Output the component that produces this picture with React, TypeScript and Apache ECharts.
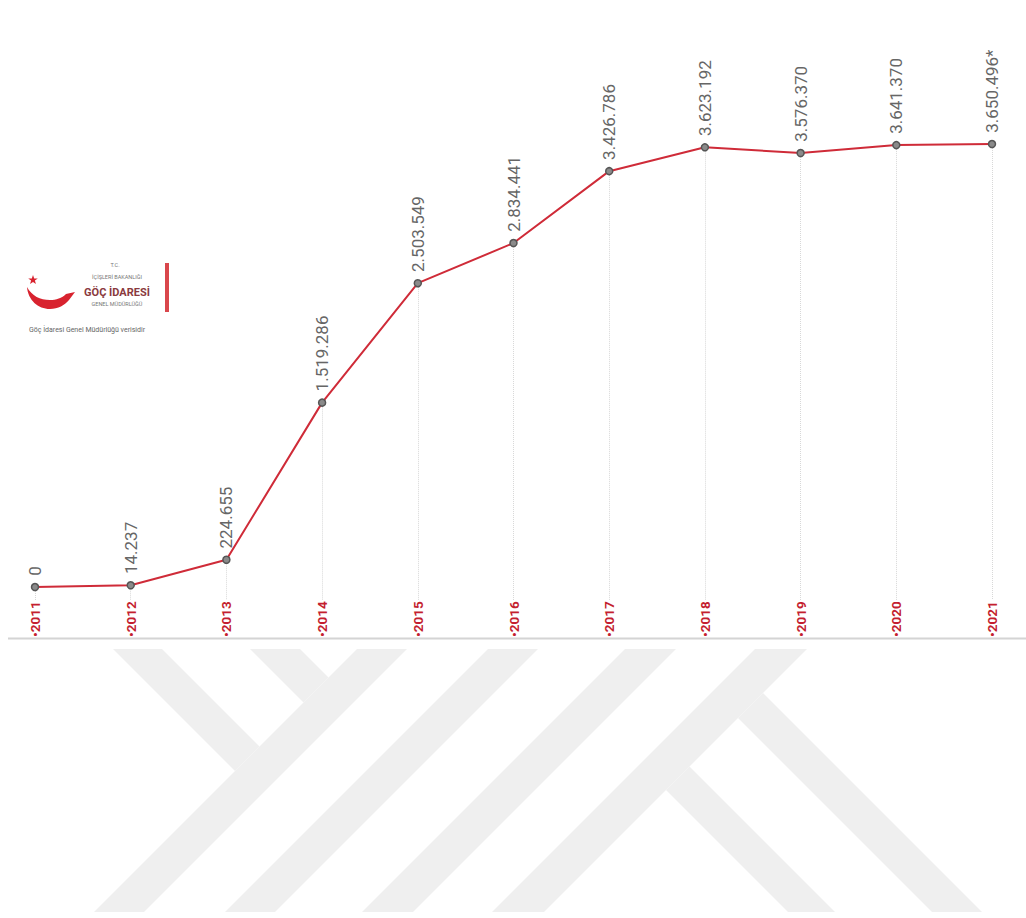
import React, { useEffect, useRef } from "react";
import * as echarts from "echarts";

const years = ["2011", "2012", "2013", "2014", "2015", "2016", "2017", "2018", "2019", "2020", "2021"];
const values = [0, 14237, 224655, 1519286, 2503549, 2834441, 3426786, 3623192, 3576370, 3641370, 3650496];
const valueLabels = [
  "0", "14.237", "224.655", "1.519.286", "2.503.549", "2.834.441",
  "3.426.786", "3.623.192", "3.576.370", "3.641.370", "3.650.496*",
];
const yMin = -107000;
const yMax = 4000000;

const logoLines = ["T.C.", "İÇİŞLERİ BAKANLIĞI", "GÖÇ İDARESİ", "GENEL MÜDÜRLÜĞÜ"];
const caption = "Göç İdaresi Genel Müdürlüğü verisidir";

let registered = false;
function registerShapes() {
  if (registered) return;
  registered = true;
  echarts.graphic.registerShape(
    "crescent",
    echarts.graphic.extendPath(
      "M27,287 C28,300 38,309 50,309 C58,309 65,305 69,300 L75,292 L66,294 C62,298 56,300 50,300 C40,300 32,296 27,287 Z",
      {}
    )
  );
}

function starPoints(cx: number, cy: number, ro: number, ri: number) {
  const pts: number[][] = [];
  for (let i = 0; i < 10; i++) {
    const r = i % 2 === 0 ? ro : ri;
    const a = -Math.PI / 2 + (i * Math.PI) / 5;
    pts.push([cx + r * Math.cos(a), cy + r * Math.sin(a)]);
  }
  return pts;
}

const wmColor = "#efefef";
const watermark = [
  [[113, 649], [162, 649], [259.5, 746.5], [235, 771]],
  [[250, 649], [300, 649], [328.5, 677.5], [303.5, 702.5]],
  [[357, 649], [407, 649], [144, 912], [94, 912]],
  [[488, 649], [538, 649], [275, 912], [225, 912]],
  [[625, 649], [676, 649], [413, 912], [362, 912]],
  [[755, 649], [807, 649], [544, 912], [492, 912]],
  [[763, 693], [982, 912], [932, 912], [738, 718]],
  [[689.5, 766.5], [835, 912], [788, 912], [666, 790]],
];

export default function App() {
  const ref = useRef<HTMLDivElement>(null);
  useEffect(() => {
    if (!ref.current) return;
    registerShapes();
    const chart = echarts.init(ref.current, null, { renderer: "svg" });
    const graphics: any[] = [];
    watermark.forEach((pts) => {
      graphics.push({ type: "polygon", silent: true, z: -10, shape: { points: pts }, style: { fill: wmColor } });
    });
    graphics.push({ type: "line", silent: true, shape: { x1: 8, y1: 638.5, x2: 1026, y2: 638.5 }, style: { stroke: "#d4d4d4", lineWidth: 2 } });
    graphics.push({ type: "ellipse", silent: true, shape: { cx: 403, cy: 7, rx: 4, ry: 2 }, rotation: 0.3, style: { fill: "#5a1a22" } });
    // logo
    graphics.push({ type: "crescent", silent: true, x: 0, y: 0, style: { fill: "#d8232f" } });
    graphics.push({ type: "polygon", silent: true, shape: { points: starPoints(33, 280, 5, 2) }, style: { fill: "#d8232f" } });
    graphics.push({ type: "rect", silent: true, shape: { x: 165, y: 263, width: 4, height: 49 }, style: { fill: "#d9474c" } });
    graphics.push({ type: "text", silent: true, style: { text: logoLines[0], x: 115, y: 265, textAlign: "center", textVerticalAlign: "middle", font: "5.5px Roboto", fill: "#777" } });
    graphics.push({ type: "text", silent: true, style: { text: logoLines[1], x: 117, y: 277, textAlign: "center", textVerticalAlign: "middle", font: "5.5px Roboto", fill: "#777" } });
    graphics.push({ type: "text", silent: true, style: { text: logoLines[2], x: 117, y: 292, textAlign: "center", textVerticalAlign: "middle", font: "bold 11px Roboto", fill: "#8a3a3e" } });
    graphics.push({ type: "text", silent: true, style: { text: logoLines[3], x: 117, y: 304, textAlign: "center", textVerticalAlign: "middle", font: "5.5px Roboto", fill: "#777" } });
    graphics.push({ type: "text", silent: true, style: { text: caption, x: 29, y: 330, textAlign: "left", textVerticalAlign: "middle", font: "7px Roboto", fill: "#666" } });

    chart.setOption({
      animation: false,
      backgroundColor: "#ffffff",
      grid: { left: 35, right: 34, top: 101.6, bottom: 318 },
      xAxis: {
        type: "category",
        data: years,
        boundaryGap: false,
        offset: 38,
        axisLine: { show: false },
        axisTick: { show: false },
        splitLine: { show: false },
        axisLabel: {
          inside: true,
          rotate: 90,
          margin: 1,
          color: "#c41f30",
          fontFamily: "Roboto",
          fontWeight: "bold",
          fontSize: 13.5,
          formatter: (v: string) => "•" + v,
        },
      },
      yAxis: { type: "value", min: yMin, max: yMax, show: false, splitLine: { show: false } },
      graphic: graphics,
      series: [
        {
          type: "line",
          data: values,
          z: 3,
          symbol: "circle",
          symbolSize: 7,
          lineStyle: { color: "#cf2b38", width: 2 },
          itemStyle: { color: "#8a8a8a", borderColor: "#555", borderWidth: 1.5 },
          label: {
            show: true,
            position: "top",
            rotate: 90,
            align: "left",
            verticalAlign: "middle",
            distance: 7,
            color: "#666",
            fontFamily: "Roboto",
            fontSize: 17,
            formatter: (p: any) => valueLabels[p.dataIndex],
          },
          markLine: {
            silent: true,
            symbol: "none",
            z: 1,
            label: { show: false },
            lineStyle: { color: "#d8d8d8", type: "dotted", width: 1 },
            data: values.map((v, i) => [{ coord: [i, v] }, { coord: [i, yMin] }]),
          },
        },
      ],
    });
    return () => chart.dispose();
  }, []);
  return (
    <div
      ref={ref}
      style={{ position: "absolute", left: 0, top: 0, width: 1026, height: 918, background: "#fff" }}
    />
  );
}
